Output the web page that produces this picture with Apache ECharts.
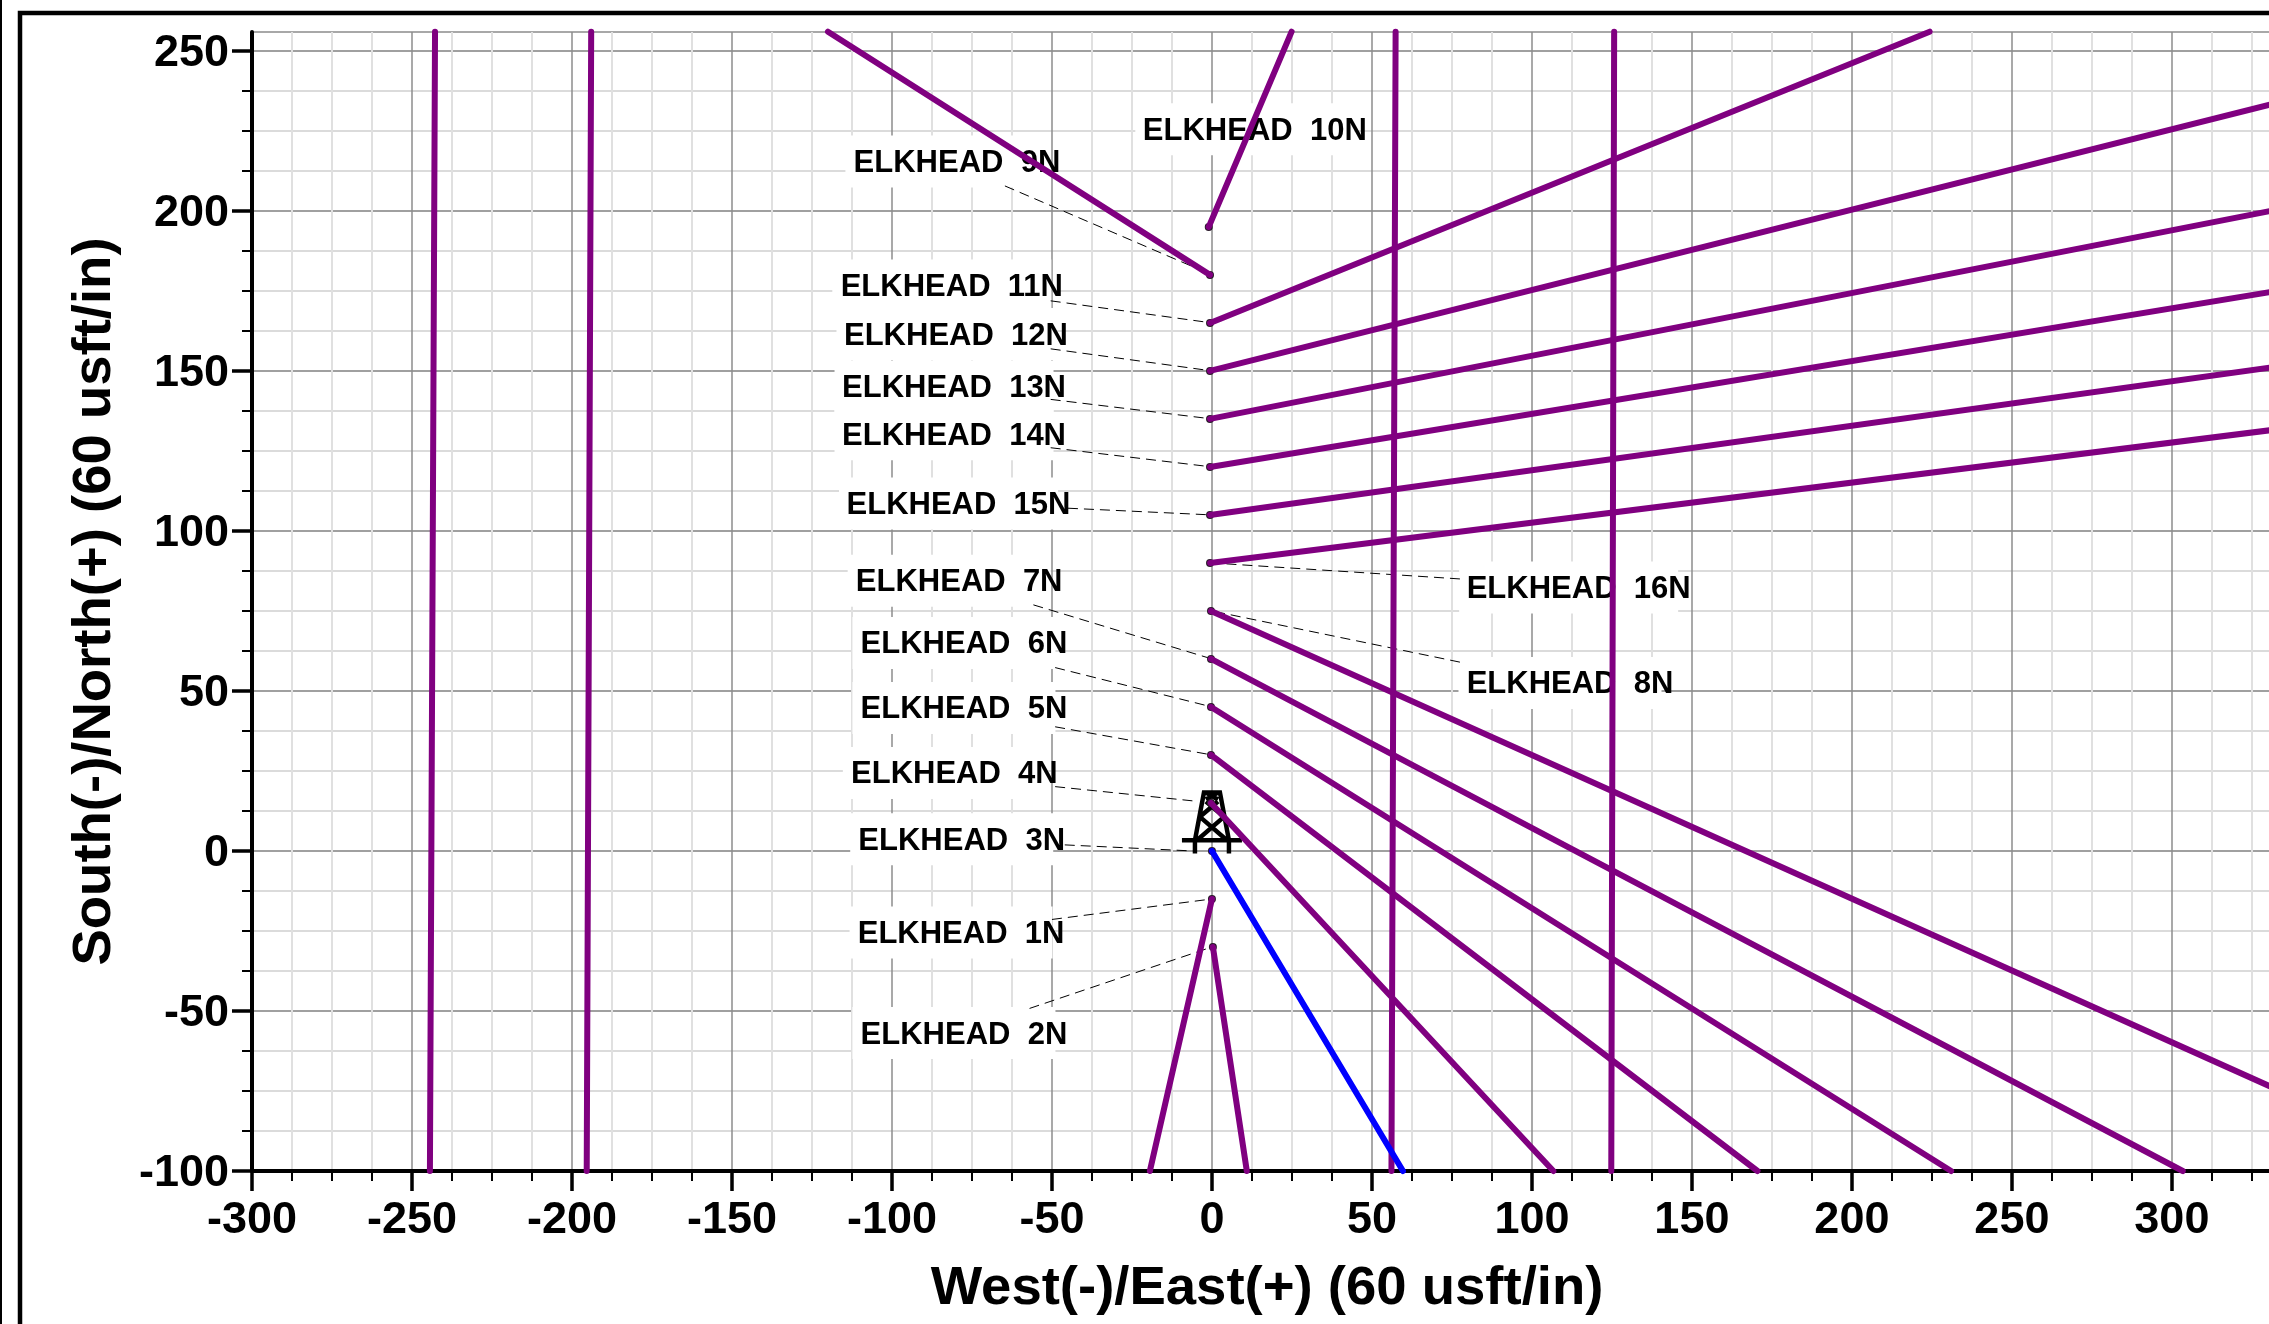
<!DOCTYPE html>
<html>
<head>
<meta charset="utf-8">
<style>html,body{margin:0;padding:0;background:#fff}#c{width:2269px;height:1324px}</style>
<script src="https://cdn.jsdelivr.net/npm/echarts@6/dist/echarts.min.js"></script>
</head>
<body>
<div id="c"></div>
<script>
// ----- axis ticks -----
const xMajorTicks = [-300,-250,-200,-150,-100,-50,0,50,100,150,200,250,300];
const yMajorTicks = [-100,-50,0,50,100,150,200,250];
const xMinorTicks = [-287.5,-275,-262.5,-237.5,-225,-212.5,-187.5,-175,-162.5,-137.5,-125,-112.5,-87.5,-75,-62.5,-37.5,-25,-12.5,12.5,25,37.5,62.5,75,87.5,112.5,125,137.5,162.5,175,187.5,212.5,225,237.5,262.5,275,287.5,312.5,325];
const yMinorTicks = [-87.5,-75,-62.5,-37.5,-25,-12.5,12.5,25,37.5,62.5,75,87.5,112.5,125,137.5,162.5,175,187.5,212.5,225,237.5];
const xTitle = 'West(-)/East(+) (60 usft/in)';
const yTitle = 'South(-)/North(+) (60 usft/in)';

// ----- well paths [east, north] -----
const well1N  = [[0,-15],[-19.4,-100]];
const well2N  = [[0.3,-30],[10.9,-100]];
const well3N  = [[0,0],[59.7,-100]];
const well4N  = [[-0.3,15],[106.7,-100]];
const well5N  = [[-0.3,30],[170.5,-100]];
const well6N  = [[-0.3,45],[231,-100]];
const well7N  = [[-0.3,60],[303.4,-100]];
const well8N  = [[-0.3,75],[331,-73.7]];
const well9N  = [[-0.6,180],[-120,256]];
const well10N = [[-1,195],[24.9,256]];
const well11N = [[-0.6,165],[224.3,256]];
const well12N = [[-0.6,150],[331,233.3]];
const well13N = [[-0.6,135],[331,200]];
const well14N = [[-0.6,120],[331,174.7]];
const well15N = [[-0.6,105],[331,151.1]];
const well16N = [[-0.6,90],[331,131.5]];
const offsetA = [[-244.4,-100],[-242.8,256]];
const offsetB = [[-195.4,-100],[-194,256]];
const offsetC = [[56.1,-100],[57.4,256]];
const offsetD = [[124.8,-100],[125.7,256]];
const purpleWells = [well1N,well2N,well4N,well5N,well6N,well7N,well8N,well9N,well10N,well11N,well12N,well13N,well14N,well15N,well16N];
const offsetWells = [offsetA,offsetB,offsetC,offsetD];
const blueWells = [well3N];

// ----- labels -----
const labelNames = ['ELKHEAD  1N','ELKHEAD  2N','ELKHEAD  3N','ELKHEAD  4N','ELKHEAD  5N','ELKHEAD  6N','ELKHEAD  7N','ELKHEAD  8N','ELKHEAD  9N','ELKHEAD  10N','ELKHEAD  11N','ELKHEAD  12N','ELKHEAD  13N','ELKHEAD  14N','ELKHEAD  15N','ELKHEAD  16N'];
const labelEast  = [-78.4,-77.5,-78.2,-80.5,-77.5,-77.5,-79,111.9,-79.7,13.4,-81.3,-80,-80.6,-80.6,-79.2,114.6];
const labelNorth = [-25.5,-56.9,3.7,24.4,44.7,65,84.4,52.5,215.4,225.5,176.7,161.5,145.1,130.2,108.6,82.3];

// ----- leader lines [east, north] from label to well start -----
const leader1N  = [[-50,-21.4],[0,-15]];
const leader2N  = [[-57,-49.2],[0,-30]];
const leader3N  = [[-46,1.9],[-6,0]];
const leader4N  = [[-49,20.1],[-4.5,15.5]];
const leader5N  = [[-49,38.8],[0,30]];
const leader6N  = [[-49,57.3],[0,45]];
const leader7N  = [[-55.8,76.9],[0,60]];
const leader8N  = [[77.5,59],[0,75]];
const leader9N  = [[-64.7,207.8],[0,180]];
const leader10N = [[6.5,214],[-1,195]];
const leader11N = [[-50.4,171.9],[0,165]];
const leader12N = [[-50.4,156.9],[0,150]];
const leader13N = [[-50.4,141.1],[0,135]];
const leader14N = [[-50.4,126],[0,120]];
const leader15N = [[-45,107.1],[0,105]];
const leader16N = [[77.5,85],[0,90]];
const leaders = [leader1N,leader2N,leader3N,leader4N,leader5N,leader6N,leader7N,leader8N,leader9N,leader10N,leader11N,leader12N,leader13N,leader14N,leader15N,leader16N];

const surfaceLocation = [[0,0]];

const FONT = '"Liberation Sans", Arial, sans-serif';
const PURPLE = '#800080', BLUE = '#0000ff';
const rigPath = 'path://M0 48L60 48M13 61L13 48L22 1L38 1L47 48L47 61M15 48L42 25M45 48L18 25M18 25L36 10M42 25L24 10M24 8L36 1M36 8L24 1';

function wellSeries(data, color, width) {
  return {type:'line', data:data, z:4, clip:false, showSymbol:false, symbol:'none', silent:true,
    lineStyle:{color:color, width:width, cap:'round'}, animation:false};
}
const series = [];
// label boxes and text, under every well line
series.push({
  type:'scatter', z:1, animation:false, silent:true,
  data: labelNames.map((n,i)=>({
    value:[labelEast[i],labelNorth[i]], name:n,
    symbolSize:[n.length>11?219:203,52],
    label:{show:true, position:'inside', formatter:n, offset:[10,2],
      color:'#000', fontFamily:FONT, fontWeight:'bold', fontSize:31}
  })),
  symbol:'rect', symbolOffset:[-10,0],
  itemStyle:{color:'#ffffff', opacity:1}
});
leaders.forEach(l=>series.push({type:'line', data:l, z:2, showSymbol:false, symbol:'none', silent:true, animation:false,
  lineStyle:{color:'#000', width:1, type:[10,6]}}));
series.push({type:'scatter', z:3, animation:false, silent:true, data:surfaceLocation,
  symbol:rigPath, symbolSize:[60,61], symbolOffset:[0,-28],
  itemStyle:{color:'rgba(0,0,0,0)', borderColor:'#000', borderWidth:4.5, opacity:1}});
series.push({type:'scatter', z:3, animation:false, silent:true,
  data: purpleWells.map(w=>w[0]).concat(blueWells.map(w=>w[0])),
  symbol:'circle', symbolSize:8, itemStyle:{color:'#2a1a2a', opacity:1}});
offsetWells.forEach(w=>series.push(wellSeries(w,PURPLE,6)));
purpleWells.forEach(w=>series.push(wellSeries(w,PURPLE,6)));
blueWells.forEach(w=>series.push(wellSeries(w,BLUE,6)));

const xMin=-300, xMax=336.6, yMin=-100, yMax=255.9;
const labelStyle = {color:'#000', fontFamily:FONT, fontWeight:'bold', fontSize:45};
const chart = echarts.init(document.getElementById('c'), null, {renderer:'canvas', width:2269, height:1324});
chart.setOption({
  animation:false,
  backgroundColor:'#ffffff',
  grid:{show:true, left:252, top:32, width:2037, height:1139, outerBoundsMode:'none', borderColor:'#8c8c8c', borderWidth:1.5, backgroundColor:'transparent', containLabel:false},
  graphic:[
    {type:'rect', z:100, shape:{x:20,y:13,width:2400,height:1500}, style:{fill:'none', stroke:'#000', lineWidth:4.5}},
    {type:'rect', z:100, shape:{x:-2,y:-5,width:4,height:1340}, style:{fill:'#000'}}
  ],
  xAxis:[
    {type:'value', position:'bottom', min:xMin, max:xMax, interval:50,
     axisLine:{show:false, onZero:false}, axisLabel:{show:false},
     axisTick:{show:true, length:10, customValues:xMinorTicks, lineStyle:{color:'#000', width:2}},
     splitLine:{show:true, lineStyle:{color:'#e0e0e0', width:2}}},
    {type:'value', position:'bottom', min:xMin, max:xMax, interval:50,
     name:xTitle, nameLocation:'middle', nameGap:90,
     nameTextStyle:{color:'#000', fontFamily:FONT, fontWeight:'bold', fontSize:54.5, padding:[0,7,0,0]},
     axisLine:{show:true, onZero:false, lineStyle:{color:'#000', width:4}},
     axisTick:{show:true, length:20, customValues:xMajorTicks, lineStyle:{color:'#000', width:3.5}},
     axisLabel:Object.assign({show:true, margin:27, customValues:xMajorTicks}, labelStyle),
     splitLine:{show:true, lineStyle:{color:'#8c8c8c', width:1.5}}}
  ],
  yAxis:[
    {type:'value', position:'left', min:yMin, max:yMax, interval:50,
     axisLine:{show:false, onZero:false}, axisLabel:{show:false},
     axisTick:{show:true, length:10, customValues:yMinorTicks, lineStyle:{color:'#000', width:2}},
     splitLine:{show:true, lineStyle:{color:'#cfcfcf', width:1.5}}},
    {type:'value', position:'left', min:yMin, max:yMax, interval:50,
     name:yTitle, nameLocation:'middle', nameGap:130, nameRotate:90,
     nameTextStyle:{color:'#000', fontFamily:FONT, fontWeight:'bold', fontSize:54.5},
     axisLine:{show:true, onZero:false, lineStyle:{color:'#000', width:4}},
     axisTick:{show:true, length:20, customValues:yMajorTicks, lineStyle:{color:'#000', width:3.5}},
     axisLabel:Object.assign({show:true, margin:23, customValues:yMajorTicks, verticalAlign:'top', lineHeight:6}, labelStyle),
     splitLine:{show:true, lineStyle:{color:'#808080', width:1.5}}}
  ],
  series:series
});
</script>
</body>
</html>
